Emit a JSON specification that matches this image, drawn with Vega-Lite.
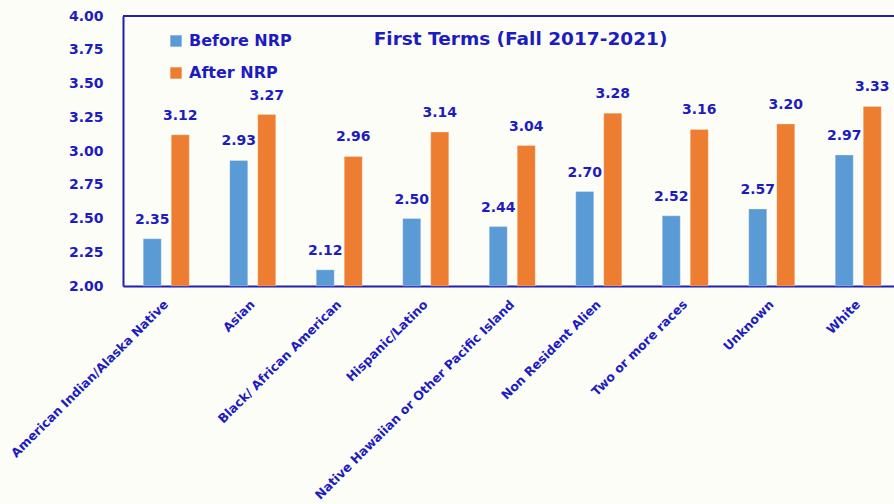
{
  "$schema": "https://vega.github.io/schema/vega-lite/v6.json",
  "width": 771,
  "height": 270,
  "autosize": "none",
  "padding": {"left": 123, "top": 16, "right": 0, "bottom": 218},
  "background": "#FDFDF7",
  "config": {"view": {"stroke": null}, "font": "DejaVu Sans", "axisY": {"labelOverlap": false}},
  "title": {"text": "First Terms (Fall 2017-2021)", "fontSize": 18.5, "fontWeight": "bold", "color": "#1C1CC0", "anchor": "middle", "dx": 12, "offset": -39},
  "data": {"values": [
    {"group": "American Indian/Alaska Native", "period": "Before NRP", "value": 2.35},
    {"group": "American Indian/Alaska Native", "period": "After NRP", "value": 3.12},
    {"group": "Asian", "period": "Before NRP", "value": 2.93},
    {"group": "Asian", "period": "After NRP", "value": 3.27},
    {"group": "Black/ African American", "period": "Before NRP", "value": 2.12},
    {"group": "Black/ African American", "period": "After NRP", "value": 2.96},
    {"group": "Hispanic/Latino", "period": "Before NRP", "value": 2.50},
    {"group": "Hispanic/Latino", "period": "After NRP", "value": 3.14},
    {"group": "Native Hawaiian or Other Pacific Island", "period": "Before NRP", "value": 2.44},
    {"group": "Native Hawaiian or Other Pacific Island", "period": "After NRP", "value": 3.04},
    {"group": "Non Resident Alien", "period": "Before NRP", "value": 2.70},
    {"group": "Non Resident Alien", "period": "After NRP", "value": 3.28},
    {"group": "Two or more races", "period": "Before NRP", "value": 2.52},
    {"group": "Two or more races", "period": "After NRP", "value": 3.16},
    {"group": "Unknown", "period": "Before NRP", "value": 2.57},
    {"group": "Unknown", "period": "After NRP", "value": 3.20},
    {"group": "White", "period": "Before NRP", "value": 2.97},
    {"group": "White", "period": "After NRP", "value": 3.33}
  ]},
  "layer": [
    {"data": {"values": [{}]},
     "mark": {"type": "rule", "color": "#1F1FB0", "strokeWidth": 2},
     "encoding": {"y": {"datum": 4, "type": "quantitative", "title": null,
        "scale": {"domain": [2, 4], "zero": false, "nice": false},
        "axis": {"values": [2, 2.25, 2.5, 2.75, 3, 3.25, 3.5, 3.75, 4], "format": ".2f", "grid": false, "ticks": false, "labelPadding": 20, "labelOverlap": false,
          "domainColor": "#1F1FB0", "domainWidth": 2, "labelFontSize": 14, "labelFontWeight": "bold", "labelColor": "#1C1CC0"}}}},
    {"encoding": {
      "x": {"field": "group", "type": "nominal", "sort": null, "title": null,
        "scale": {"range": [0, 778.5], "paddingInner": 0.468, "paddingOuter": 0.234},
        "axis": {"labelAngle": -45, "labelAlign": "right", "labelBaseline": "middle", "labelPadding": 16, "ticks": false,
          "domainColor": "#1F1FB0", "domainWidth": 2, "labelFontSize": 12.5, "labelFontWeight": "bold", "labelColor": "#1C1CC0", "labelLimit": 400}},
      "xOffset": {"field": "period", "sort": ["Before NRP", "After NRP"], "scale": {"paddingInner": 0.357, "paddingOuter": 0}},
      "y": {"field": "value", "type": "quantitative", "title": null,
        "scale": {"domain": [2, 4], "zero": false, "nice": false},
        "axis": {"values": [2, 2.25, 2.5, 2.75, 3, 3.25, 3.5, 3.75, 4], "format": ".2f", "grid": false, "ticks": false, "labelPadding": 20, "labelOverlap": false,
          "domainColor": "#1F1FB0", "domainWidth": 2, "labelFontSize": 14, "labelFontWeight": "bold", "labelColor": "#1C1CC0"}}
     },
     "layer": [
      {"mark": {"type": "bar", "stroke": "#FFFFFF", "strokeOpacity": 0.5, "strokeWidth": 0.5},
       "encoding": {
        "y2": {"datum": 2},
        "color": {"field": "period", "type": "nominal", "sort": ["Before NRP", "After NRP"],
         "scale": {"domain": ["Before NRP", "After NRP"], "range": ["#5B9BD5", "#ED7D31"]},
         "legend": {"orient": "none", "legendX": 45, "legendY": 17, "title": null, "symbolType": "square", "symbolSize": 130,
           "symbolStrokeWidth": 0, "labelFontSize": 16, "labelFontWeight": "bold", "labelColor": "#1C1CC0", "rowPadding": 16, "labelOffset": 5}}}},
      {"mark": {"type": "text", "dy": -19, "baseline": "middle", "fontWeight": "bold", "fontSize": 14, "color": "#1C1CC0"},
       "encoding": {"text": {"field": "value", "type": "quantitative", "format": ".2f"}}}
     ]}
  ]
}
